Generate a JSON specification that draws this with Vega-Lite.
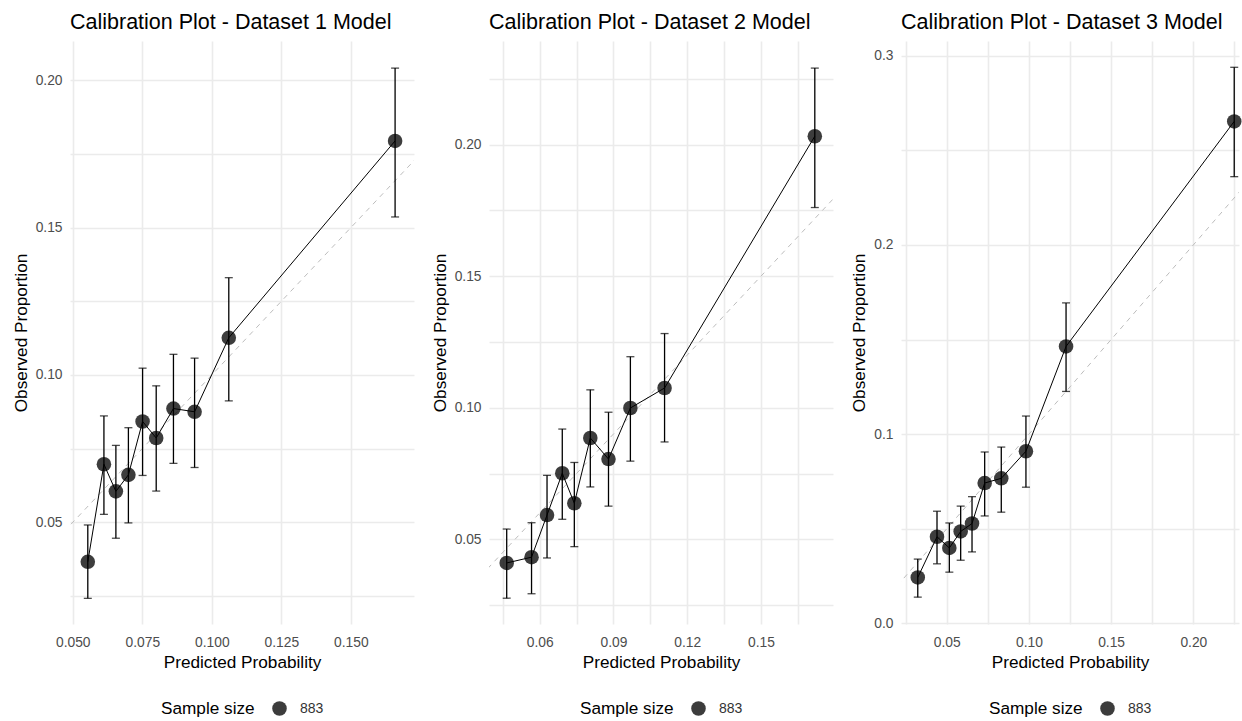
{
  "$schema": "https://vega.github.io/schema/vega-lite/v6.json",
  "padding": {"left": 12, "top": 11, "right": 0, "bottom": 0},
  "background": "white",
  "datasets": {
    "ref": [{"a": 0, "b": 0.4}],
    "cal": [
      {"panel": 1, "pred": 0.0554, "obs": 0.0366, "lo": 0.0242, "hi": 0.0491, "n": 883},
      {"panel": 1, "pred": 0.0612, "obs": 0.0697, "lo": 0.0527, "hi": 0.0861, "n": 883},
      {"panel": 1, "pred": 0.0655, "obs": 0.0605, "lo": 0.0446, "hi": 0.0761, "n": 883},
      {"panel": 1, "pred": 0.0700, "obs": 0.0661, "lo": 0.0498, "hi": 0.0821, "n": 883},
      {"panel": 1, "pred": 0.0751, "obs": 0.0842, "lo": 0.0659, "hi": 0.1023, "n": 883},
      {"panel": 1, "pred": 0.0800, "obs": 0.0786, "lo": 0.0606, "hi": 0.0963, "n": 883},
      {"panel": 1, "pred": 0.0862, "obs": 0.0886, "lo": 0.0700, "hi": 0.1070, "n": 883},
      {"panel": 1, "pred": 0.0938, "obs": 0.0875, "lo": 0.0686, "hi": 0.1057, "n": 883},
      {"panel": 1, "pred": 0.1061, "obs": 0.1126, "lo": 0.0912, "hi": 0.1330, "n": 883},
      {"panel": 1, "pred": 0.1659, "obs": 0.1794, "lo": 0.1536, "hi": 0.2041, "n": 883},
      {"panel": 2, "pred": 0.0466, "obs": 0.0410, "lo": 0.0276, "hi": 0.0539, "n": 883},
      {"panel": 2, "pred": 0.0567, "obs": 0.0432, "lo": 0.0293, "hi": 0.0563, "n": 883},
      {"panel": 2, "pred": 0.0630, "obs": 0.0592, "lo": 0.0429, "hi": 0.0743, "n": 883},
      {"panel": 2, "pred": 0.0692, "obs": 0.0751, "lo": 0.0576, "hi": 0.0919, "n": 883},
      {"panel": 2, "pred": 0.0741, "obs": 0.0637, "lo": 0.0472, "hi": 0.0792, "n": 883},
      {"panel": 2, "pred": 0.0806, "obs": 0.0885, "lo": 0.0699, "hi": 0.1068, "n": 883},
      {"panel": 2, "pred": 0.0880, "obs": 0.0805, "lo": 0.0626, "hi": 0.0983, "n": 883},
      {"panel": 2, "pred": 0.0969, "obs": 0.0999, "lo": 0.0797, "hi": 0.1194, "n": 883},
      {"panel": 2, "pred": 0.1108, "obs": 0.1075, "lo": 0.0870, "hi": 0.1282, "n": 883},
      {"panel": 2, "pred": 0.1719, "obs": 0.2032, "lo": 0.1761, "hi": 0.2291, "n": 883},
      {"panel": 3, "pred": 0.0324, "obs": 0.0243, "lo": 0.0139, "hi": 0.0340, "n": 883},
      {"panel": 3, "pred": 0.0441, "obs": 0.0458, "lo": 0.0315, "hi": 0.0593, "n": 883},
      {"panel": 3, "pred": 0.0516, "obs": 0.0399, "lo": 0.0271, "hi": 0.0531, "n": 883},
      {"panel": 3, "pred": 0.0585, "obs": 0.0486, "lo": 0.0334, "hi": 0.0620, "n": 883},
      {"panel": 3, "pred": 0.0654, "obs": 0.0528, "lo": 0.0378, "hi": 0.0670, "n": 883},
      {"panel": 3, "pred": 0.0731, "obs": 0.0742, "lo": 0.0568, "hi": 0.0906, "n": 883},
      {"panel": 3, "pred": 0.0832, "obs": 0.0767, "lo": 0.0588, "hi": 0.0932, "n": 883},
      {"panel": 3, "pred": 0.0982, "obs": 0.0910, "lo": 0.0720, "hi": 0.1096, "n": 883},
      {"panel": 3, "pred": 0.1226, "obs": 0.1464, "lo": 0.1226, "hi": 0.1694, "n": 883},
      {"panel": 3, "pred": 0.2249, "obs": 0.2653, "lo": 0.2361, "hi": 0.2939, "n": 883}
    ]
  },
  "spacing": 17,
  "resolve": {"scale": {"size": "independent"}, "legend": {"size": "independent"}},
  "hconcat": [
    {
      "title": "Calibration Plot - Dataset 1 Model",
      "width": 344,
      "height": 583,
      "layer": [
        {
          "data": {"name": "ref"},
          "mark": {"type": "rule", "color": "#bdbdbd", "strokeDash": [5, 5], "strokeWidth": 1, "clip": true},
          "encoding": {
            "x": {"field": "a", "type": "quantitative", "title": "Predicted Probability", "scale": {"domain": [0.049, 0.1727], "nice": false, "zero": false},
              "axis": {"values": [0.05, 0.0625, 0.075, 0.0875, 0.1, 0.1125, 0.125, 0.1375, 0.15, 0.1625],
                "labelExpr": "round(datum.value*1000)%25==0 ? format(datum.value,'.3f') : ''"}},
            "y": {"field": "a", "type": "quantitative", "title": "Observed Proportion", "scale": {"domain": [0.0155, 0.2133], "nice": false, "zero": false},
              "axis": {"values": [0.025, 0.05, 0.075, 0.1, 0.125, 0.15, 0.175, 0.2],
                "labelExpr": "round(datum.value*1000)%50==0 ? format(datum.value,'.2f') : ''"}},
            "x2": {"field": "b"},
            "y2": {"field": "b"}
          }
        },
        {
          "data": {"name": "cal"},
          "transform": [{"filter": "datum.panel == 1"}],
          "mark": {"type": "line", "color": "#000000", "strokeWidth": 1},
          "encoding": {
            "x": {"field": "pred", "type": "quantitative", "title": "Predicted Probability", "scale": {"domain": [0.049, 0.1727], "nice": false, "zero": false}},
            "y": {"field": "obs", "type": "quantitative", "title": "Observed Proportion", "scale": {"domain": [0.0155, 0.2133], "nice": false, "zero": false}}
          }
        },
        {
          "data": {"name": "cal"},
          "transform": [{"filter": "datum.panel == 1"}],
          "mark": {"type": "errorbar", "ticks": true, "size": 8, "thickness": 1.3, "color": "#000000"},
          "encoding": {
            "x": {"field": "pred", "type": "quantitative", "title": "Predicted Probability", "scale": {"domain": [0.049, 0.1727], "nice": false, "zero": false}},
            "y": {"field": "lo", "type": "quantitative", "title": "Observed Proportion", "scale": {"domain": [0.0155, 0.2133], "nice": false, "zero": false}},
            "y2": {"field": "hi"}
          }
        },
        {
          "data": {"name": "cal"},
          "transform": [{"filter": "datum.panel == 1"}],
          "mark": {"type": "point", "filled": true, "color": "#000000", "opacity": 0.76},
          "encoding": {
            "x": {"field": "pred", "type": "quantitative", "title": "Predicted Probability", "scale": {"domain": [0.049, 0.1727], "nice": false, "zero": false}},
            "y": {"field": "obs", "type": "quantitative", "title": "Observed Proportion", "scale": {"domain": [0.0155, 0.2133], "nice": false, "zero": false}},
            "size": {"field": "n", "type": "quantitative", "scale": {"domain": [0, 1000], "range": [0, 240]}, "legend": {"values": [883], "title": "Sample size"}}
          }
        }
      ]
    },
    {
      "title": "Calibration Plot - Dataset 2 Model",
      "width": 344,
      "height": 583,
      "layer": [
        {
          "data": {"name": "ref"},
          "mark": {"type": "rule", "color": "#bdbdbd", "strokeDash": [5, 5], "strokeWidth": 1, "clip": true},
          "encoding": {
            "x": {"field": "a", "type": "quantitative", "title": "Predicted Probability", "scale": {"domain": [0.0394, 0.1793], "nice": false, "zero": false},
              "axis": {"values": [0.045, 0.06, 0.075, 0.09, 0.105, 0.12, 0.135, 0.15, 0.165],
                "labelExpr": "round(datum.value*1000)%30==0 ? format(datum.value,'.2f') : ''"}},
            "y": {"field": "a", "type": "quantitative", "title": "Observed Proportion", "scale": {"domain": [0.0178, 0.2394], "nice": false, "zero": false},
              "axis": {"values": [0.025, 0.05, 0.075, 0.1, 0.125, 0.15, 0.175, 0.2, 0.225],
                "labelExpr": "round(datum.value*1000)%50==0 ? format(datum.value,'.2f') : ''"}},
            "x2": {"field": "b"},
            "y2": {"field": "b"}
          }
        },
        {
          "data": {"name": "cal"},
          "transform": [{"filter": "datum.panel == 2"}],
          "mark": {"type": "line", "color": "#000000", "strokeWidth": 1},
          "encoding": {
            "x": {"field": "pred", "type": "quantitative", "title": "Predicted Probability", "scale": {"domain": [0.0394, 0.1793], "nice": false, "zero": false}},
            "y": {"field": "obs", "type": "quantitative", "title": "Observed Proportion", "scale": {"domain": [0.0178, 0.2394], "nice": false, "zero": false}}
          }
        },
        {
          "data": {"name": "cal"},
          "transform": [{"filter": "datum.panel == 2"}],
          "mark": {"type": "errorbar", "ticks": true, "size": 8, "thickness": 1.3, "color": "#000000"},
          "encoding": {
            "x": {"field": "pred", "type": "quantitative", "title": "Predicted Probability", "scale": {"domain": [0.0394, 0.1793], "nice": false, "zero": false}},
            "y": {"field": "lo", "type": "quantitative", "title": "Observed Proportion", "scale": {"domain": [0.0178, 0.2394], "nice": false, "zero": false}},
            "y2": {"field": "hi"}
          }
        },
        {
          "data": {"name": "cal"},
          "transform": [{"filter": "datum.panel == 2"}],
          "mark": {"type": "point", "filled": true, "color": "#000000", "opacity": 0.76},
          "encoding": {
            "x": {"field": "pred", "type": "quantitative", "title": "Predicted Probability", "scale": {"domain": [0.0394, 0.1793], "nice": false, "zero": false}},
            "y": {"field": "obs", "type": "quantitative", "title": "Observed Proportion", "scale": {"domain": [0.0178, 0.2394], "nice": false, "zero": false}},
            "size": {"field": "n", "type": "quantitative", "scale": {"domain": [0, 1000], "range": [0, 240]}, "legend": {"values": [883], "title": "Sample size"}}
          }
        }
      ]
    },
    {
      "title": "Calibration Plot - Dataset 3 Model",
      "width": 338,
      "height": 583,
      "layer": [
        {
          "data": {"name": "ref"},
          "mark": {"type": "rule", "color": "#bdbdbd", "strokeDash": [5, 5], "strokeWidth": 1, "clip": true},
          "encoding": {
            "x": {"field": "a", "type": "quantitative", "title": "Predicted Probability", "scale": {"domain": [0.0222, 0.2278], "nice": false, "zero": false},
              "axis": {"values": [0.025, 0.05, 0.075, 0.1, 0.125, 0.15, 0.175, 0.2, 0.225],
                "labelExpr": "round(datum.value*1000)%50==0 ? format(datum.value,'.2f') : ''"}},
            "y": {"field": "a", "type": "quantitative", "title": "Observed Proportion", "scale": {"domain": [-0.0003, 0.3078], "nice": false, "zero": false},
              "axis": {"values": [0, 0.05, 0.1, 0.15, 0.2, 0.25, 0.3],
                "labelExpr": "round(datum.value*1000)%100==0 ? format(datum.value,'.1f') : ''"}},
            "x2": {"field": "b"},
            "y2": {"field": "b"}
          }
        },
        {
          "data": {"name": "cal"},
          "transform": [{"filter": "datum.panel == 3"}],
          "mark": {"type": "line", "color": "#000000", "strokeWidth": 1},
          "encoding": {
            "x": {"field": "pred", "type": "quantitative", "title": "Predicted Probability", "scale": {"domain": [0.0222, 0.2278], "nice": false, "zero": false}},
            "y": {"field": "obs", "type": "quantitative", "title": "Observed Proportion", "scale": {"domain": [-0.0003, 0.3078], "nice": false, "zero": false}}
          }
        },
        {
          "data": {"name": "cal"},
          "transform": [{"filter": "datum.panel == 3"}],
          "mark": {"type": "errorbar", "ticks": true, "size": 8, "thickness": 1.3, "color": "#000000"},
          "encoding": {
            "x": {"field": "pred", "type": "quantitative", "title": "Predicted Probability", "scale": {"domain": [0.0222, 0.2278], "nice": false, "zero": false}},
            "y": {"field": "lo", "type": "quantitative", "title": "Observed Proportion", "scale": {"domain": [-0.0003, 0.3078], "nice": false, "zero": false}},
            "y2": {"field": "hi"}
          }
        },
        {
          "data": {"name": "cal"},
          "transform": [{"filter": "datum.panel == 3"}],
          "mark": {"type": "point", "filled": true, "color": "#000000", "opacity": 0.76},
          "encoding": {
            "x": {"field": "pred", "type": "quantitative", "title": "Predicted Probability", "scale": {"domain": [0.0222, 0.2278], "nice": false, "zero": false}},
            "y": {"field": "obs", "type": "quantitative", "title": "Observed Proportion", "scale": {"domain": [-0.0003, 0.3078], "nice": false, "zero": false}},
            "size": {"field": "n", "type": "quantitative", "scale": {"domain": [0, 1000], "range": [0, 240]}, "legend": {"values": [883], "title": "Sample size"}}
          }
        }
      ]
    }
  ],
  "config": {
    "view": {"stroke": null},
    "font": "Liberation Sans",
    "axis": {"ticks": false, "domain": false, "gridColor": "#ebebeb", "gridWidth": 1.6, "labelColor": "#4d4d4d", "labelFontSize": 13.8, "titleFontSize": 17.2, "titleFontWeight": "normal", "titleColor": "#000000", "labelPadding": 8},
    "axisX": {"labelPadding": 11, "titlePadding": 5},
    "axisY": {"titlePadding": 5},
    "title": {"fontSize": 21.5, "fontWeight": "normal", "anchor": "start", "color": "#000000", "offset": 8, "frame": "group"},
    "legend": {"orient": "bottom", "direction": "horizontal", "titleOrient": "left", "titleFontSize": 17.2, "titleFontWeight": "normal", "titleColor": "#000000", "titlePadding": 16, "labelOffset": 12, "labelFontSize": 14, "labelColor": "#333333", "offset": 29, "layout": {"bottom": {"anchor": "middle"}}}
  }
}
